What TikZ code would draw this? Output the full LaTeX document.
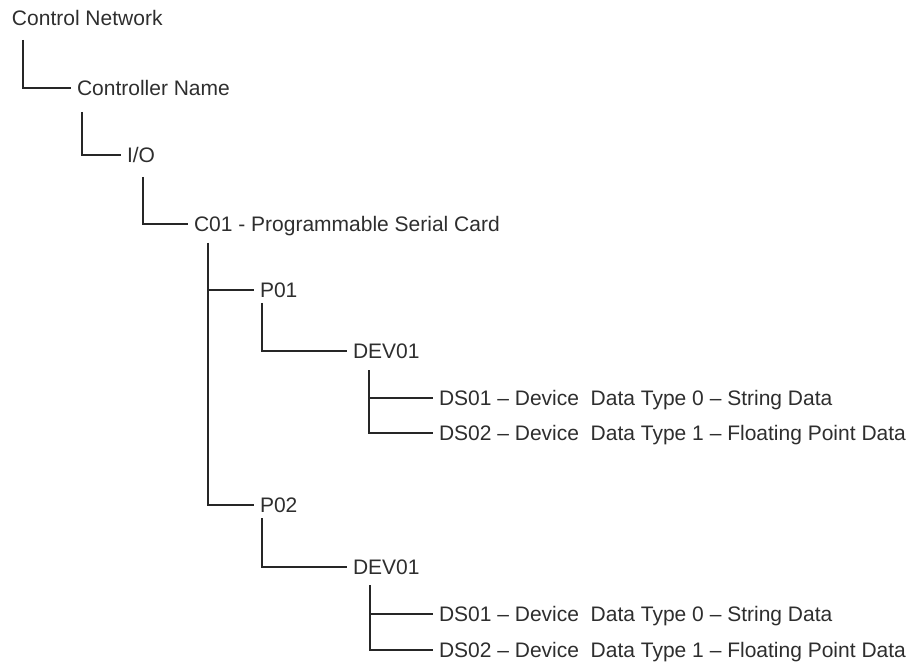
\documentclass[tikz,border=0pt]{standalone}
\usepackage{fontspec}
\setmainfont{Liberation Sans}
\begin{document}
\begin{tikzpicture}[x=1pt,y=-1pt,
  lbl/.style={anchor=west,inner sep=0pt,outer xsep=6pt,text=black!82,
    font=\fontsize{21}{25}\selectfont,text height=19pt,text depth=4pt},
  conn/.style={draw=black!85,line width=1.5pt}]
\useasboundingbox (0,0) rectangle (919,663);
% nodes
\node[lbl] (cn)   at (6,18)    {Control Network};
\node[lbl] (cname) at (71,88)  {Controller Name};
\node[lbl] (io)   at (121,155) {I/O};
\node[lbl] (c01)  at (188,224) {C01 - Programmable Serial Card};
\node[lbl] (p01)  at (254,290) {P01};
\node[lbl] (dev1) at (347,351) {DEV01};
\node[lbl] (ds11) at (433,398) {DS01 – Device~~Data Type 0 – String Data};
\node[lbl] (ds12) at (433,433) {DS02 – Device~~Data Type 1 – Floating Point Data};
\node[lbl] (p02)  at (254,505) {P02};
\node[lbl] (dev2) at (347,567) {DEV01};
\node[lbl] (ds21) at (433,614) {DS01 – Device~~Data Type 0 – String Data};
\node[lbl] (ds22) at (433,650) {DS02 – Device~~Data Type 1 – Floating Point Data};
% branch start points
\coordinate (s1) at (23,40);
\coordinate (s2) at (82,112);
\coordinate (s3) at (143,177);
\coordinate (s4) at (208,243);
\coordinate (s5) at (262,303);
\coordinate (s6) at (369,370);
\coordinate (s7) at (262,518);
\coordinate (s8) at (370,585);
% connectors
\draw[conn] (s1) |- (cname.west);
\draw[conn] (s2) |- (io.west);
\draw[conn] (s3) |- (c01.west);
\draw[conn] (s4) |- (p01.west);
\draw[conn] (s4) |- (p02.west);
\draw[conn] (s5) |- (dev1.west);
\draw[conn] (s6) |- (ds11.west);
\draw[conn] (s6) |- (ds12.west);
\draw[conn] (s7) |- (dev2.west);
\draw[conn] (s8) |- (ds21.west);
\draw[conn] (s8) |- (ds22.west);
\end{tikzpicture}
\end{document}
